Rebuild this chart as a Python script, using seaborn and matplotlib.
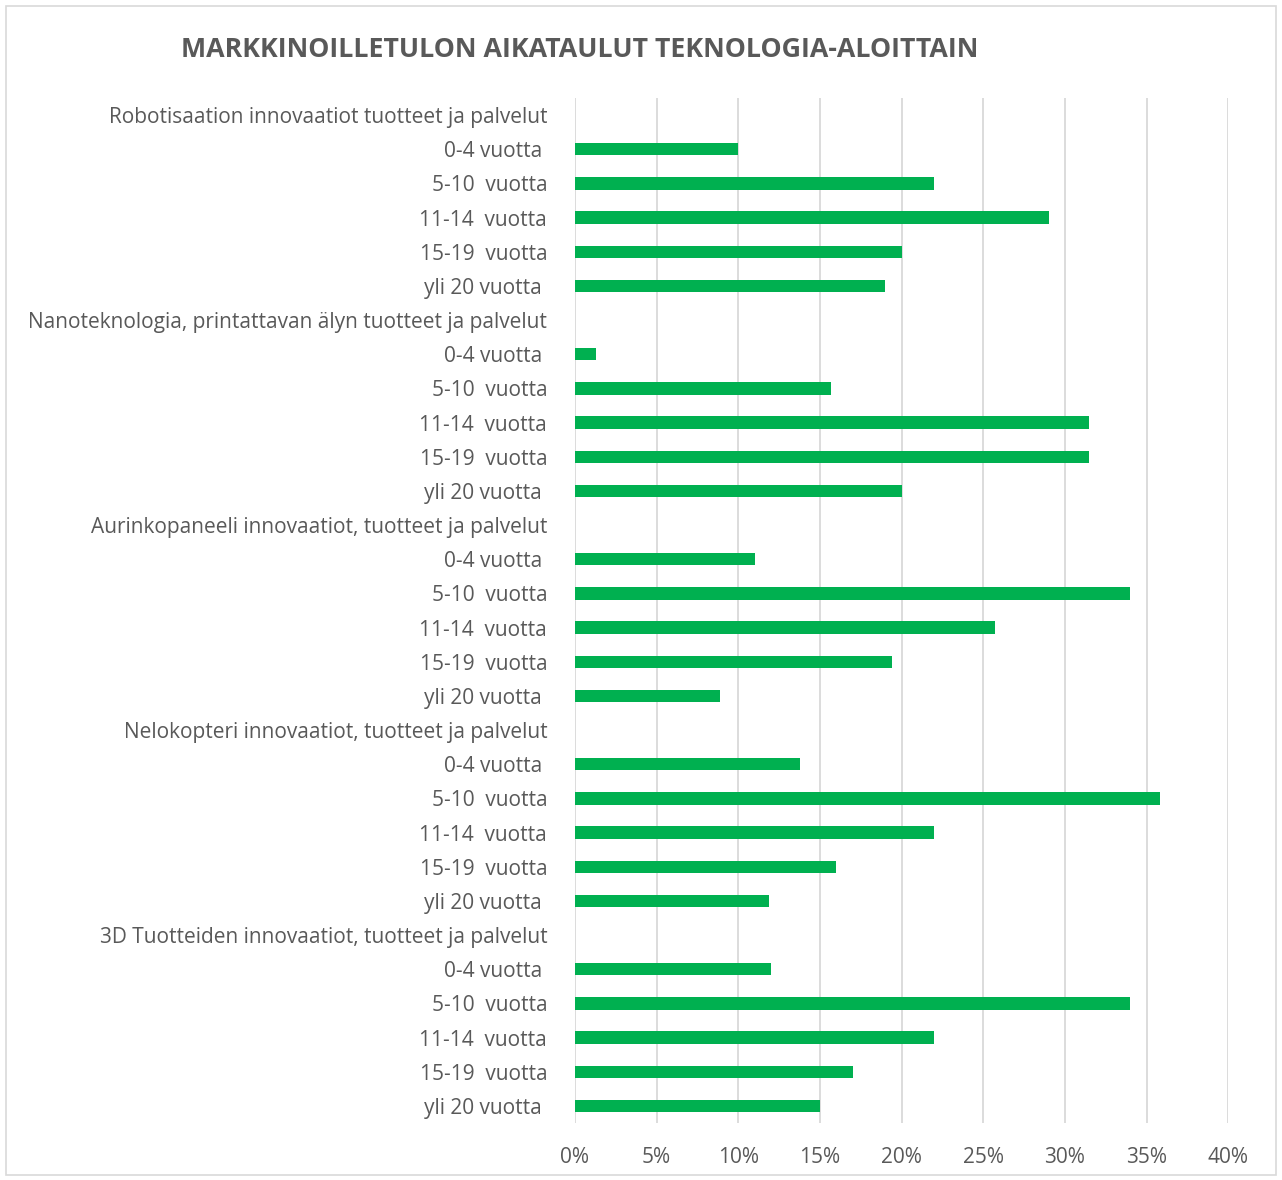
import pandas as pd
import numpy as np
import matplotlib
matplotlib.use("Agg")
import matplotlib.pyplot as plt
import seaborn as sns
from matplotlib.patches import Rectangle
from matplotlib.ticker import PercentFormatter

groups = [
    "Robotisaation innovaatiot tuotteet ja palvelut",
    "Nanoteknologia, printattavan älyn tuotteet ja palvelut",
    "Aurinkopaneeli innovaatiot, tuotteet ja palvelut",
    "Nelokopteri innovaatiot, tuotteet ja palvelut",
    "3D Tuotteiden innovaatiot, tuotteet ja palvelut",
]
periods = ["0-4 vuotta ", "5-10  vuotta", "11-14  vuotta", "15-19  vuotta", "yli 20 vuotta "]

robotics = [10, 22, 29, 20, 19]
nano = [1.3, 15.7, 31.5, 31.5, 20]
solar = [11, 34, 25.7, 19.4, 8.9]
quadcopter = [13.8, 35.8, 22, 16, 11.9]
print3d = [12, 34, 22, 17, 15]

series = [robotics, nano, solar, quadcopter, print3d]

rows = []
for g, vals in zip(groups, series):
    rows.append({"label": g, "value": np.nan})
    for p, v in zip(periods, vals):
        rows.append({"label": p, "value": v})
df = pd.DataFrame(rows)
df["key"] = [str(i) for i in range(len(df))]

sns.set_style("white")
plt.rcParams["font.family"] = ["Open Sans", "DejaVu Sans"]

fig = plt.figure(figsize=(12.82, 11.8), dpi=100)
ax = fig.add_axes([0.4485, 0.0483, 0.5095, 0.8687])

sns.barplot(data=df, x="value", y="key", order=list(df["key"]), orient="h",
            color="#00b050", saturation=1, width=0.36, linewidth=0, ax=ax, zorder=3)

ax.set_xlim(0, 40)
ax.set_xticks(range(0, 41, 5))
ax.xaxis.set_major_formatter(PercentFormatter(decimals=0))
ax.set_yticks(range(len(df)))
ax.set_yticklabels(df["label"])
ax.set_xlabel("")
ax.set_ylabel("")
ax.grid(axis="x", color="#d9d9d9", linewidth=1.3, zorder=0)
for s in ax.spines.values():
    s.set_visible(False)
ax.tick_params(axis="both", length=0, labelsize=15, labelcolor="#595959")
ax.tick_params(axis="y", pad=20)
ax.tick_params(axis="x", pad=17)

fig.text(0.452, 0.958, "MARKKINOILLETULON AIKATAULUT TEKNOLOGIA-ALOITTAIN",
         ha="center", va="center", fontsize=19.3, fontweight="bold", color="#595959")

fig.patches.append(Rectangle((0.005, 0.004), 0.99, 0.991, transform=fig.transFigure,
                             fill=False, edgecolor="#d9d9d9", linewidth=1.2))

fig.savefig("out.png", dpi=100)
